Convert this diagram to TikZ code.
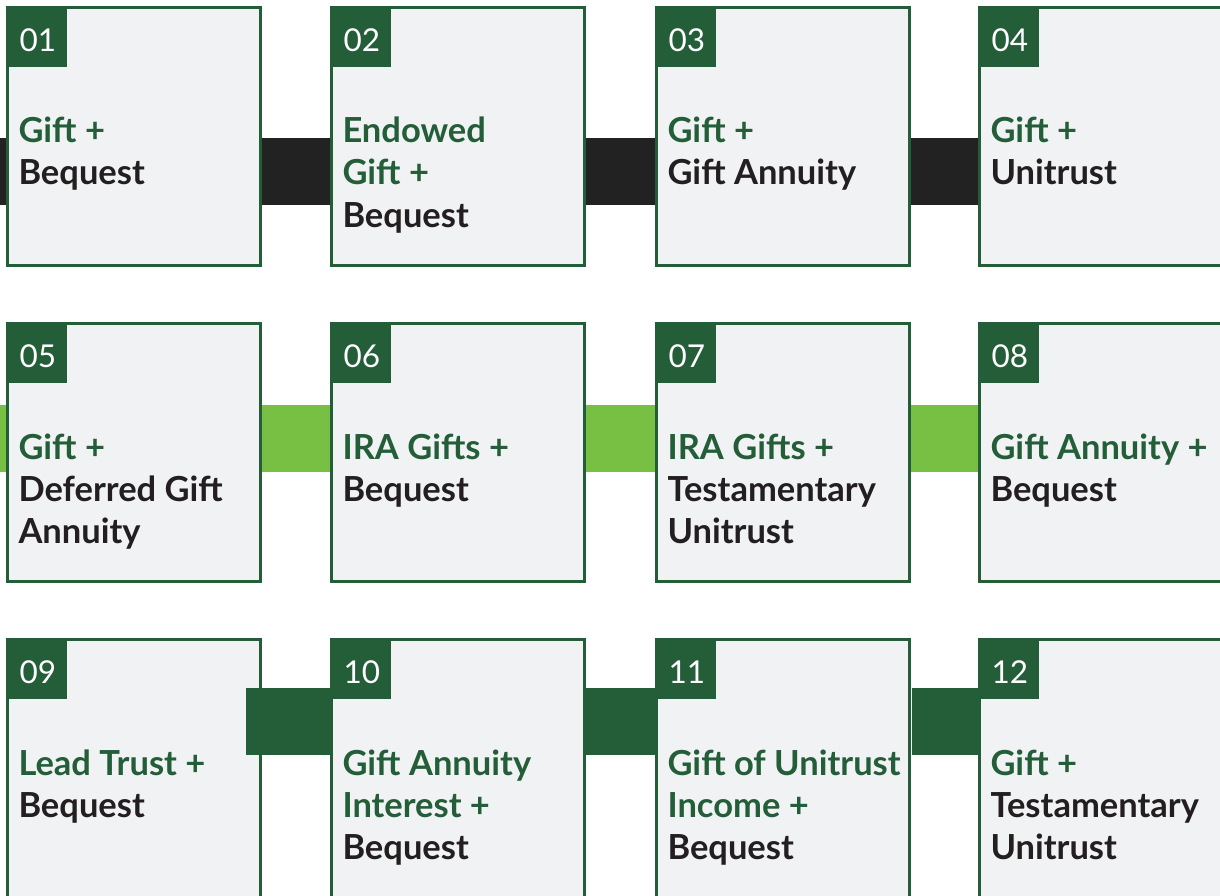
\documentclass[tikz,border=0pt]{standalone}
\usepackage{fontspec}
\setmainfont{Lato}
\usetikzlibrary{calc}
\definecolor{dg}{HTML}{235E39}
\definecolor{lg}{HTML}{77C043}
\definecolor{bk}{HTML}{222222}
\definecolor{bx}{HTML}{F1F2F4}
\definecolor{tx}{HTML}{231F20}
\tikzset{
  cardbox/.style={draw=dg, line width=3pt, fill=bx, minimum width=253pt, minimum height=258pt, anchor=north west, inner sep=0pt, outer sep=0pt},
  badge/.style={fill=dg, minimum width=61pt, minimum height=61pt, anchor=north west, inner sep=0pt, outer sep=0pt},
  num/.style={text=white, font=\fontsize{31.5}{31.5}\selectfont, anchor=base west, inner sep=0pt},
  ttl/.style={font=\fontsize{34.5}{42}\selectfont\bfseries, anchor=base west, inner sep=0pt},
  barA/.style={fill=bk},
  barB/.style={fill=lg},
  barC/.style={fill=dg}
}
\newcommand\card[5]{%
  \coordinate (#1o) at (#2,#3);
  \node[cardbox] (#1) at ($(#1o)+(1.5,1.5)$) {};
  \node[badge] (#1b) at (#1o) {};
  \node[num] (#1n) at ($(#1o)+(13.5,45.5)$) {#4};
  \foreach \lncol/\lntxt [count=\k] in {#5}
    \node[ttl, text=\lncol] (#1l\k) at ($(#1o)+(12.3,95+42*\k)$) {\lntxt};
}
\begin{document}
\begin{tikzpicture}[x=1pt,y=-1pt]
\useasboundingbox (0,0) rectangle (1220,896);
\clip (0,0) rectangle (1220,896);
% row connectors behind the cards
\fill[barA] (0,138) rectangle (1220,205);
\fill[barB] (0,405) rectangle (1220,472);
% row 1
\card{c1}{6}{6}{01}{dg/Gift +, tx/Bequest}
\card{c2}{330}{6}{02}{dg/Endowed, dg/Gift +, tx/Bequest}
\card{c3}{655}{6}{03}{dg/Gift +, tx/Gift Annuity}
\card{c4}{978}{6}{04}{dg/Gift +, tx/Unitrust}
% row 2
\card{c5}{6}{322}{05}{dg/Gift +, tx/Deferred Gift, tx/Annuity}
\card{c6}{330}{322}{06}{dg/IRA Gifts +, tx/Bequest}
\card{c7}{655}{322}{07}{dg/IRA Gifts +, tx/Testamentary, tx/Unitrust}
\card{c8}{978}{322}{08}{dg/Gift Annuity +, tx/Bequest}
% row 3
\card{c9}{6}{638}{09}{dg/Lead Trust +, tx/Bequest}
\card{c10}{330}{638}{10}{dg/Gift Annuity, dg/Interest +, tx/Bequest}
\card{c11}{655}{638}{11}{dg/Gift of Unitrust, dg/Income +, tx/Bequest}
\card{c12}{978}{638}{12}{dg/Gift +, tx/Testamentary, tx/Unitrust}
% row 3 connectors on top
\fill[barC] (246,688) rectangle (332,755);
\fill[barC] (586,688) rectangle (657,755);
\fill[barC] (912,688) rectangle (980,755);
\end{tikzpicture}
\end{document}
